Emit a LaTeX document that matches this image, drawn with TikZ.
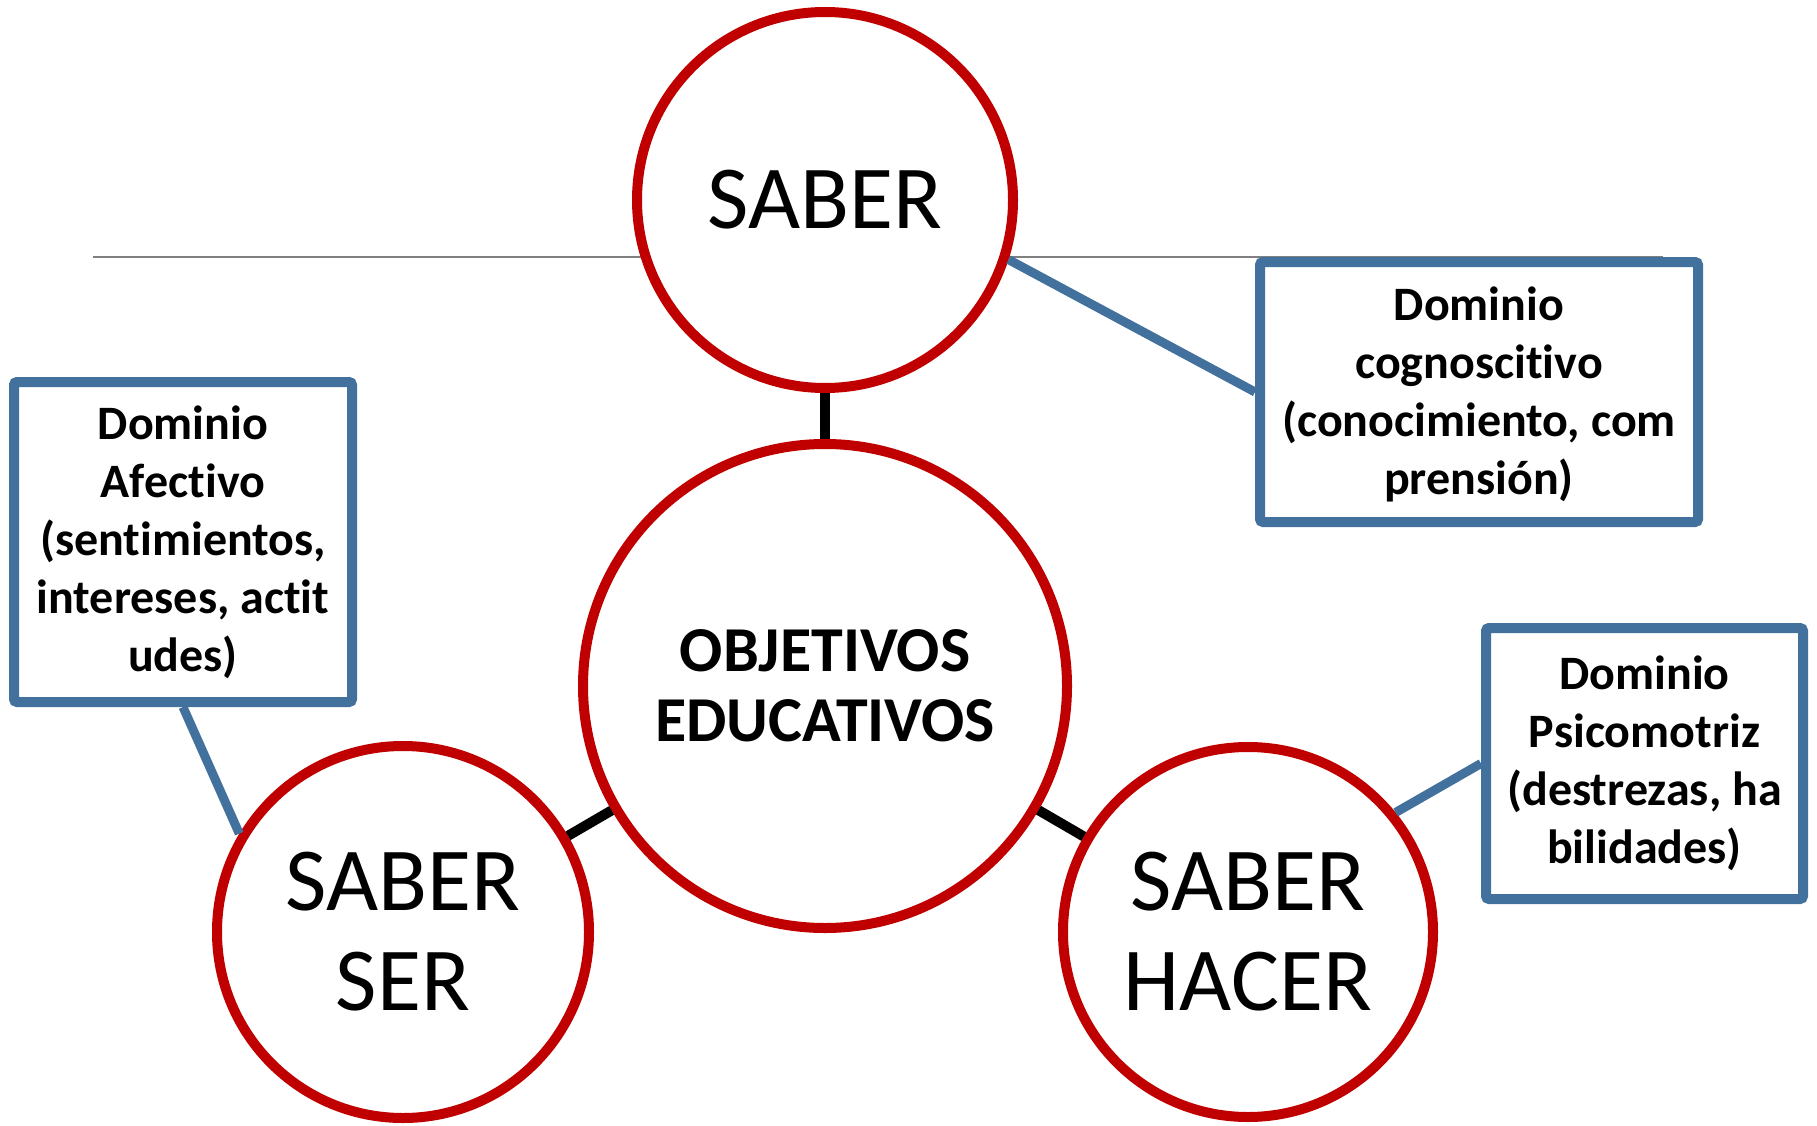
\documentclass[tikz,border=0pt]{standalone}
\usepackage{fontspec}
\setmainfont{Carlito}[RawFeature=-liga]
\usepackage{xcolor}
\usetikzlibrary{shapes.geometric, positioning}
\definecolor{saberred}{HTML}{C00000}
\definecolor{dombleu}{HTML}{41719C}
\tikzstyle{saber} = [circle, draw=saberred, line width=10pt, fill=white, align=center, font=\fontsize{90}{100}\selectfont]
\tikzstyle{dominio} = [rectangle, draw=dombleu, line width=10pt, rounded corners=3pt, fill=white, align=center, font=\fontsize{48}{58}\selectfont\bfseries]
\tikzstyle{union} = [line width=10pt, black]
\tikzstyle{nota} = [line width=9pt, dombleu]

\begin{document}
\begin{tikzpicture}[x=1pt, y=-1pt]
\useasboundingbox (0,0) rectangle (1817,1126);

\coordinate (rule-l) at (93,257);
\coordinate (rule-r) at (1663,257);
\draw [line width=2.5pt, gray] (rule-l) -- (rule-r);

\node (saber) [saber, minimum size=376pt] at (825,200) {SABER};

\node (obj) [saber, minimum size=484pt, font=\fontsize{64}{70}\selectfont\bfseries] at (825,686) {OBJETIVOS\\EDUCATIVOS};

\node (ser) [saber, minimum size=372pt] at (403,932) {SABER\\SER};

\node (hacer) [saber, minimum size=370pt] at (1248,932) {SABER\\HACER};

\node (cog) [dominio, minimum width=438pt, minimum height=260pt, text depth=2pt] at (1479,392) {Dominio\\cognoscitivo\\(conocimiento, com\\prensión)};

\node (afe) [dominio, minimum width=338pt, minimum height=320pt] at (183,542) {Dominio\\Afectivo\\(sentimientos,\\intereses, actit\\udes)};

\node (psi) [dominio, minimum width=317pt, minimum height=271pt] at (1644.5,763.5) {Dominio\\Psicomotriz\\(destrezas, ha\\bilidades)};

% Connectors
\draw [union] (saber) -- (obj);
\draw [union] (obj) -- (ser);
\draw [union] (obj) -- (hacer);
\draw [nota] (saber.-18) -- (cog.west);
\draw [nota] (afe.south) -- (ser.149);
\draw [nota] (hacer.39) -- (psi.west);

\end{tikzpicture}
\end{document}
